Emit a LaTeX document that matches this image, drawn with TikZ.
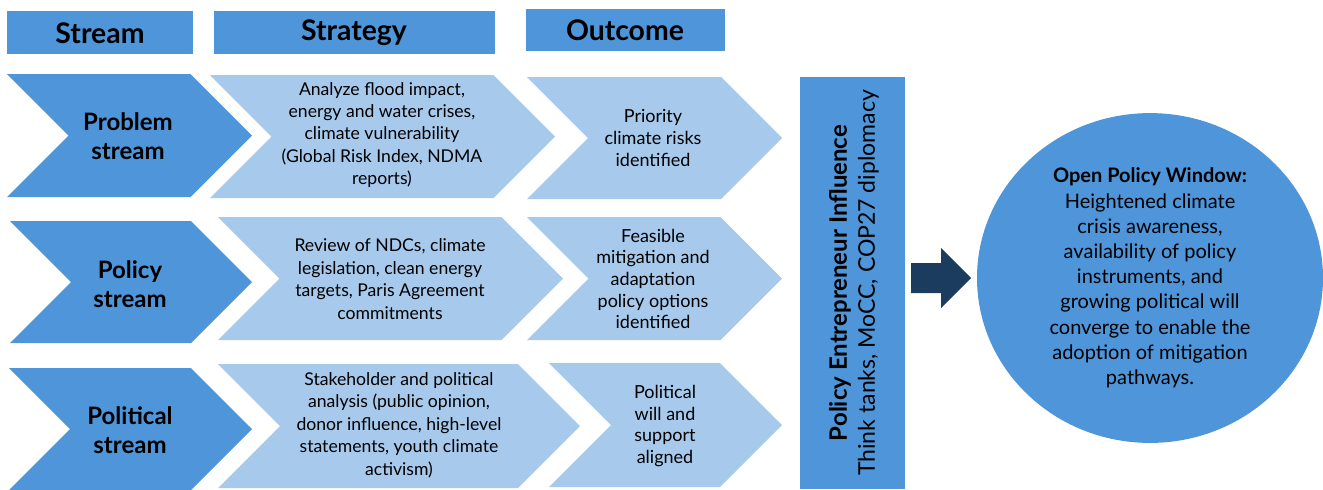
\documentclass[tikz,border=0pt]{standalone}
\usepackage{fontspec}
\setmainfont{Lato}
\usepackage{tikz}
\usetikzlibrary{shapes.geometric}

\definecolor{midblue}{HTML}{4E95D9}
\definecolor{paleblue}{HTML}{A6C9EC}
\definecolor{navyblue}{HTML}{1B3C5E}

\tikzset{
    header/.style={font=\fontsize{14.2}{16}\selectfont\bfseries},
    streamchev/.style={fill=midblue},
    stepchev/.style={fill=paleblue},
    streamtxt/.style={align=center, font=\fontsize{12}{14.5}\selectfont\bfseries},
    bodytxt/.style={align=center, font=\fontsize{8.8}{11.2}\selectfont},
    outtxt/.style={align=center, font=\fontsize{9}{10.8}\selectfont},
}

% chevron: style, left x, tip x, top y, bottom y
\newcommand{\chevbox}[5]{%
    \fill[#1] (#2,#4) -- ({#3-(#5-#4)/2},#4) -- (#3,{(#4+#5)/2})
        -- ({#3-(#5-#4)/2},#5) -- (#2,#5) -- ({#2+(#5-#4)/2},{(#4+#5)/2}) -- cycle;}

\begin{document}
\begin{tikzpicture}[x=0.5pt,y=-0.5pt]
    \useasboundingbox (0,0) rectangle (1323,489);

    % column headings
    \fill[midblue] (7,11) rectangle (193,54);
    \fill[midblue] (214,11) rectangle (495,54);
    \fill[midblue] (526,9) rectangle (725,51);
    \node[header] (hstream) at (100,33) {Stream};
    \node[header] (hstrat) at (354,33) {Strategy};
    \node[header] (hout) at (625,30) {Outcome};

    % problem stream
    \chevbox{streamchev}{7}{252}{74}{197}
    \chevbox{stepchev}{210}{555}{75}{198}
    \chevbox{stepchev}{527}{782}{77}{199}
    \node[streamtxt] (prob) at (128,136) {Problem\\stream};
    \node[bodytxt] (probstr) at (382,135) {Analyze flood impact,\\energy and water crises,\\climate vulnerability\\(Global Risk Index, NDMA\\reports)};
    \node[outtxt] (probout) at (653,138) {Priority\\climate risks\\identified};

    % policy stream
    \chevbox{streamchev}{10}{252}{221}{343}
    \chevbox{stepchev}{218}{563}{217}{340}
    \chevbox{stepchev}{527}{782}{217}{340}
    \node[streamtxt] (pol) at (130,284) {Policy\\stream};
    \node[bodytxt] (polstr) at (390,279) {Review of NDCs, climate\\legislation, clean energy\\targets, Paris Agreement\\commitments};
    \node[outtxt] (polout) at (653,279) {Feasible\\mitigation and\\adaptation\\policy options\\identified};

    % political stream
    \chevbox{streamchev}{9}{252}{368}{490}
    \chevbox{stepchev}{218}{580}{364}{488}
    \chevbox{stepchev}{549}{782}{363}{487}
    \node[streamtxt] (polit) at (130,430) {Political\\stream};
    \node[bodytxt] (politstr) at (399,425) {Stakeholder and political\\analysis (public opinion,\\donor influence, high-level\\statements, youth climate\\activism)};
    \node[outtxt] (politout) at (665,426) {Political\\will and\\support\\aligned};

    % entrepreneur bar
    \fill[midblue] (800,77) rectangle (905,489);
    \node[rotate=90, align=center, font=\fontsize{11.5}{14}\selectfont] (entre) at (854,283)
        {{\fontsize{12}{14}\selectfont\bfseries Policy Entrepreneur Influence}\\Think tanks, MoCC, COP27 diplomacy};

    % block arrow
    \fill[navyblue] (911,263) -- (941,263) -- (941,248) -- (971,278)
        -- (941,308) -- (941,293) -- (911,293) -- cycle;

    % policy window
    \node[ellipse, fill=midblue, minimum width=173pt, minimum height=157pt,
        align=center, font=\fontsize{10}{12.6}\selectfont] (window) at (1150,278)
        {\textbf{Open Policy Window:}\\Heightened climate\\crisis awareness,\\availability of policy\\instruments, and\\growing political will\\converge to enable the\\adoption of mitigation\\pathways.};
\end{tikzpicture}
\end{document}
